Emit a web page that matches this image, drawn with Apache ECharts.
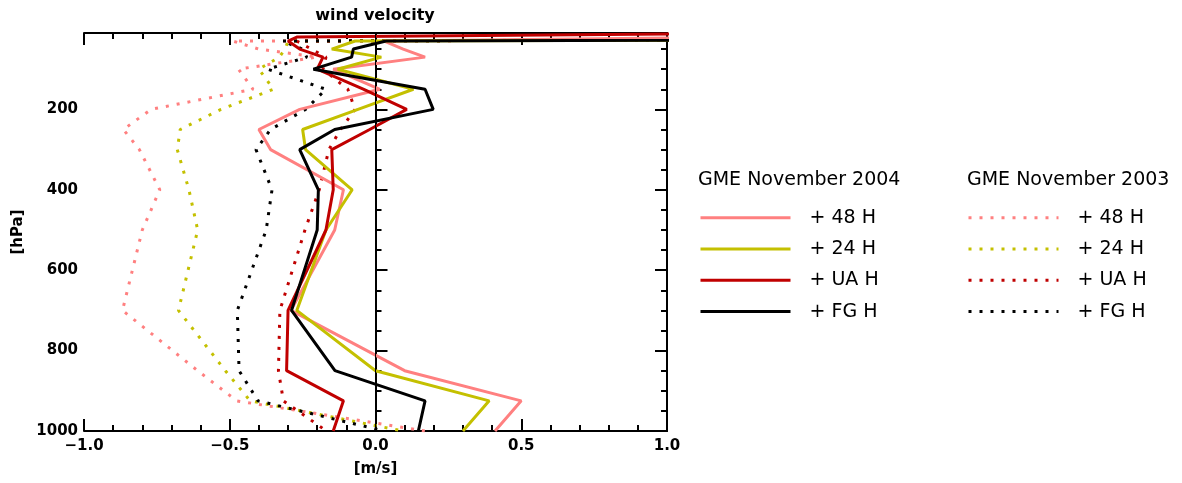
<!DOCTYPE html>
<html><head><meta charset="utf-8">
<script src="https://cdn.jsdelivr.net/npm/echarts@6/dist/echarts.min.js"></script>
<style>html,body{margin:0;padding:0;background:#fff}#c{width:1182px;height:483px}</style>
</head><body><div id="c"></div>
<script>
// pressure levels (hPa)
const levels = [10, 20, 30, 50, 70, 100, 150, 200, 250, 300, 400, 500, 700, 850, 925, 1000];
// GME November 2004 (solid)
const h48_2004 = [5, 1.3, 0.03, 0.095, 0.17, -0.145, 0.015, -0.26, -0.40, -0.36, -0.11, -0.14, -0.29, 0.10, 0.50, 0.41];
const h24_2004 = [5, 5, -0.07, -0.15, 0.02, -0.13, 0.13, -0.06, -0.25, -0.24, -0.08, -0.17, -0.27, 0.00, 0.39, 0.30];
const ua_2004  = [1.5, -0.27, -0.30, -0.26, -0.18, -0.20, -0.04, 0.107, -0.02, -0.15, -0.145, -0.17, -0.30, -0.305, -0.11, -0.145];
const fg_2004  = [5, 5, 0.036, -0.076, -0.082, -0.213, 0.17, 0.198, -0.14, -0.26, -0.196, -0.20, -0.288, -0.139, 0.17, 0.147];
// GME November 2003 (dotted)
const h48_2003 = [5, 5, -0.49, -0.40, -0.20, -0.47, -0.42, -0.77, -0.865, -0.81, -0.74, -0.80, -0.868, -0.61, -0.476, 0.17];
const h24_2003 = [5, 5, -0.30, -0.31, -0.33, -0.40, -0.35, -0.53, -0.67, -0.68, -0.64, -0.61, -0.676, -0.515, -0.43, 0.094];
const ua_2003  = [5, 5, -0.27, -0.22, -0.17, -0.18, -0.095, -0.07, -0.12, -0.16, -0.193, -0.242, -0.328, -0.333, -0.316, -0.168];
const fg_2003  = [5, 5, -0.32, -0.25, -0.236, -0.37, -0.17, -0.24, -0.36, -0.41, -0.355, -0.375, -0.474, -0.468, -0.403, 0.03];

// ticks
const xTickValues = [-1, -0.5, 0, 0.5, 1];
const xTickLabels = ['\u22121.0', '\u22120.5', '0.0', '0.5', '1.0'];
const yMajorTicks = [200, 400, 600, 800, 1000];
const yTickLabels = ['200', '400', '600', '800', '1000'];
const yMinorTicks = [50, 100, 150, 250, 300, 350, 450, 500, 550, 650, 700, 750, 850, 900, 950];

const itemLabels = ['+ 48 H', '+ 24 H', '+ UA H', '+ FG H'];
const solidNames = ['48 2004', '24 2004', 'UA 2004', 'FG 2004'];
const dottedNames = ['48 2003', '24 2003', 'UA 2003', 'FG 2003'];
const colors = ['#FF8080', '#C4C000', '#C00000', '#000000'];

const FONT = 'DejaVu Sans';
const labelMap = {};
solidNames.forEach((n, i) => labelMap[n] = itemLabels[i]);
dottedNames.forEach((n, i) => labelMap[n] = itemLabels[i]);

function mk(name, vals, color, dotted) {
  return {
    name, type: 'line', yAxisIndex: 0, xAxisIndex: 0,
    data: vals.map((v, i) => [v, levels[i]]),
    symbol: 'none', showSymbol: false, clip: true, silent: true,
    lineStyle: { color, width: 3, type: dotted ? [3, 8] : 'solid', cap: 'butt' },
    itemStyle: { color },
    animation: false
  };
}

const series = [
  mk(dottedNames[0], h48_2003, colors[0], true),
  mk(dottedNames[1], h24_2003, colors[1], true),
  mk(dottedNames[2], ua_2003, colors[2], true),
  mk(dottedNames[3], fg_2003, colors[3], true),
  mk(solidNames[0], h48_2004, colors[0], false),
  mk(solidNames[1], h24_2004, colors[1], false),
  mk(solidNames[2], ua_2004, colors[2], false),
  mk(solidNames[3], fg_2004, colors[3], false)
];
series[0].markLine = {
  silent: true, symbol: ['none', 'none'], label: { show: false }, animation: false,
  lineStyle: { color: '#000', width: 1, type: 'solid' },
  data: [{ xAxis: 0 }]
};

const axisLineStyle = { show: true, lineStyle: { color: '#000', width: 2 } };
function yAx(pos, ticks, len, labels, name) {
  return {
    type: 'value', inverse: true, min: 10, max: 1000, position: pos,
    axisLine: axisLineStyle,
    axisTick: { show: true, inside: true, length: len, customValues: ticks, lineStyle: { color: '#000', width: 2 } },
    axisLabel: labels ? { show: true, customValues: ticks, margin: 6, color: '#000', fontFamily: FONT, fontWeight: 'bold', fontSize: 15,
      formatter: v => { const k = yMajorTicks.indexOf(Math.round(v)); return k >= 0 ? yTickLabels[k] : ''; } } : { show: false },
    splitLine: { show: false },
    name: name || '', nameLocation: 'middle', nameRotate: 90, nameGap: 58,
    nameTextStyle: { color: '#000', fontFamily: FONT, fontWeight: 'bold', fontSize: 15 }
  };
}
function xAx(pos, labels, name) {
  return {
    type: 'value', min: -1, max: 1, interval: 0.5, position: pos,
    axisLine: axisLineStyle,
    axisTick: { show: true, inside: true, length: 12, lineStyle: { color: '#000', width: 2 } },
    minorTick: { show: true, splitNumber: 5, length: 6, lineStyle: { color: '#000', width: 2 } },
    axisLabel: labels ? { show: true, margin: 8, color: '#000', fontFamily: FONT, fontWeight: 'bold', fontSize: 15,
      formatter: v => { const k = xTickValues.findIndex(t => Math.abs(t - v) < 1e-9); return k >= 0 ? xTickLabels[k] : ''; } } : { show: false },
    splitLine: { show: false }, minorSplitLine: { show: false },
    name: name || '', nameLocation: 'middle', nameGap: 31,
    nameTextStyle: { color: '#000', fontFamily: FONT, fontWeight: 'bold', fontSize: 15 }
  };
}

const legendBase = {
  orient: 'vertical', itemWidth: 90, itemHeight: 20, itemGap: 11.3, padding: 0, top: 207.7,
  selectedMode: false, formatter: n => labelMap[n],
  itemStyle: { opacity: 0, borderWidth: 0 },
  lineStyle: { width: 3 },
  textStyle: { fontSize: 19, fontFamily: FONT, color: '#000', padding: [0, 0, 0, 14], lineHeight: 20 }
};

const option = {
  backgroundColor: '#fff',
  animation: false,
  title: [
    { text: 'wind velocity', left: 375, top: 8, textAlign: 'center', padding: 0,
      textStyle: { fontFamily: FONT, fontWeight: 'bold', fontSize: 16, color: '#000' } },
    { text: 'GME November 2004', left: 698, top: 171, padding: 0,
      textStyle: { fontFamily: FONT, fontWeight: 'normal', fontSize: 19, color: '#000' } },
    { text: 'GME November 2003', left: 967, top: 171, padding: 0,
      textStyle: { fontFamily: FONT, fontWeight: 'normal', fontSize: 19, color: '#000' } }
  ],
  legend: [
    Object.assign({}, legendBase, { data: solidNames, left: 699 }),
    Object.assign({}, legendBase, { data: dottedNames, left: 967 })
  ],
  grid: { left: 84, right: 515, top: 33, bottom: 52, outerBoundsMode: 'none' },
  xAxis: [xAx('bottom', true, '[m/s]'), xAx('top', false)],
  yAxis: [
    yAx('left', yMajorTicks, 12, true, '[hPa]'),
    yAx('left', yMinorTicks, 6, false),
    yAx('right', yMajorTicks, 12, false),
    yAx('right', yMinorTicks, 6, false)
  ],
  series
};

const chart = echarts.init(document.getElementById('c'), null, { renderer: 'canvas' });
chart.setOption(option);
</script>
</body></html>
